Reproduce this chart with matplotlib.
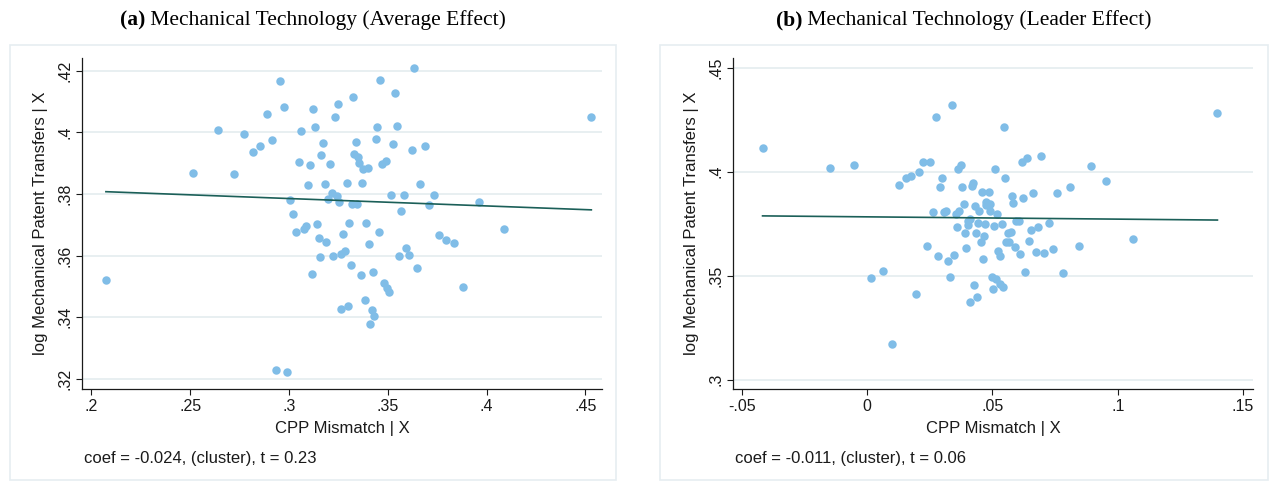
import numpy as np
import matplotlib
matplotlib.use("Agg")
import matplotlib.pyplot as plt
from matplotlib.patches import Rectangle

plt.rcParams['font.family'] = ['Liberation Sans', 'DejaVu Sans']

# panel (a): average effect
left_x = [0.2955, 0.2974, 0.3123, 0.3248, 0.3326, 0.3463, 0.3633, 0.3537, 0.3235, 0.3061,
          0.3134, 0.3446, 0.3546, 0.2913, 0.3173, 0.3338, 0.3439, 0.3527, 0.3621, 0.3164,
          0.3329, 0.3350, 0.3050, 0.3105, 0.3210, 0.3356, 0.3377, 0.3399, 0.3471, 0.3490,
          0.3098, 0.3181, 0.3293, 0.3371, 0.3663, 0.3217, 0.3242, 0.3199, 0.3255, 0.3318,
          0.3343, 0.3517, 0.3581, 0.3007, 0.3022, 0.3569, 0.3142, 0.3306, 0.3392, 0.3454,
          0.3037, 0.3075, 0.3088, 0.3151, 0.3189, 0.3274, 0.3405, 0.3157, 0.3225, 0.3264,
          0.3285, 0.3557, 0.3594, 0.3609, 0.3650, 0.3115, 0.3313, 0.3365, 0.3427, 0.3481,
          0.3495, 0.3507, 0.3385, 0.3265, 0.3301, 0.3419, 0.3432, 0.3412, 0.2933, 0.2992,
          0.2888, 0.2640, 0.2774, 0.2855, 0.2820, 0.2516, 0.2721, 0.2074, 0.4530, 0.3689,
          0.3733, 0.3709, 0.3960, 0.3760, 0.3794, 0.3836, 0.4089, 0.3883]
left_y = [0.4167, 0.4083, 0.4076, 0.4092, 0.4116, 0.4170, 0.4210, 0.4127, 0.4049, 0.4005,
          0.4016, 0.4017, 0.4021, 0.3974, 0.3966, 0.3969, 0.3977, 0.3961, 0.3942, 0.3926,
          0.3931, 0.3921, 0.3903, 0.3893, 0.3896, 0.3901, 0.3882, 0.3883, 0.3898, 0.3908,
          0.3828, 0.3833, 0.3834, 0.3835, 0.3832, 0.3804, 0.3793, 0.3782, 0.3775, 0.3766,
          0.3767, 0.3796, 0.3796, 0.3779, 0.3736, 0.3744, 0.3702, 0.3706, 0.3706, 0.3677,
          0.3675, 0.3685, 0.3696, 0.3656, 0.3645, 0.3671, 0.3638, 0.3596, 0.3599, 0.3606,
          0.3614, 0.3599, 0.3623, 0.3602, 0.3558, 0.3541, 0.3570, 0.3537, 0.3547, 0.3512,
          0.3495, 0.3481, 0.3456, 0.3427, 0.3436, 0.3424, 0.3405, 0.3378, 0.3228, 0.3222,
          0.4059, 0.4007, 0.3994, 0.3957, 0.3937, 0.3867, 0.3864, 0.3520, 0.4049, 0.3957,
          0.3795, 0.3765, 0.3774, 0.3668, 0.3651, 0.3641, 0.3686, 0.3497]
left_coef, left_icpt = -0.024, 0.3857
left_xticks = [0.2, 0.25, 0.3, 0.35, 0.4, 0.45]
left_xlabels = ['.2', '.25', '.3', '.35', '.4', '.45']
left_yticks = [0.32, 0.34, 0.36, 0.38, 0.40, 0.42]
left_ylabels = ['.32', '.34', '.36', '.38', '.4', '.42']

# panel (b): leader effect
right_x = [0.0339, 0.0273, 0.0545, 0.0224, 0.0251, 0.0363, 0.0373, 0.0616, 0.0638, 0.0695,
           0.0510, 0.0208, 0.0173, 0.0153, 0.0128, 0.0300, 0.0292, 0.0380, 0.0417, 0.0422,
           0.0550, 0.0457, 0.0485, 0.0577, 0.0623, 0.0663, 0.0757, 0.0385, 0.0430, 0.0474,
           0.0490, 0.0476, 0.0582, 0.0261, 0.0308, 0.0316, 0.0355, 0.0368, 0.0448, 0.0490,
           0.0518, 0.0402, 0.0410, 0.0444, 0.0472, 0.0506, 0.0537, 0.0594, 0.0604, 0.0725,
           0.0359, 0.0404, 0.0392, 0.0436, 0.0466, 0.0454, 0.0562, 0.0573, 0.0554, 0.0566,
           0.0589, 0.0654, 0.0683, 0.0647, 0.0239, 0.0396, 0.0283, 0.0323, 0.0345, 0.0462,
           0.0522, 0.0528, 0.0610, 0.0673, 0.0707, 0.0741, 0.0063, 0.0331, 0.0631, 0.0497,
           0.0513, 0.0530, 0.0540, 0.0426, 0.0501, 0.0193, 0.0412, 0.0440, -0.0418, -0.0150,
           -0.0052, 0.0016, 0.0100, 0.1398, 0.0894, 0.0954, 0.0809, 0.0846, 0.1061, 0.0782]
right_y = [0.4322, 0.4262, 0.4216, 0.4045, 0.4045, 0.4014, 0.4031, 0.4045, 0.4066, 0.4077,
           0.4013, 0.3997, 0.3981, 0.3968, 0.3938, 0.3971, 0.3925, 0.3928, 0.3931, 0.3946,
           0.3971, 0.3904, 0.3904, 0.3885, 0.3872, 0.3899, 0.3899, 0.3846, 0.3837, 0.3856,
           0.3845, 0.3838, 0.3848, 0.3805, 0.3806, 0.3813, 0.3798, 0.3811, 0.3810, 0.3810,
           0.3795, 0.3763, 0.3771, 0.3755, 0.3749, 0.3740, 0.3749, 0.3763, 0.3764, 0.3753,
           0.3736, 0.3745, 0.3707, 0.3705, 0.3689, 0.3663, 0.3704, 0.3712, 0.3661, 0.3663,
           0.3639, 0.3720, 0.3736, 0.3668, 0.3644, 0.3633, 0.3595, 0.3569, 0.3598, 0.3582,
           0.3617, 0.3593, 0.3606, 0.3614, 0.3608, 0.3630, 0.3521, 0.3494, 0.3519, 0.3495,
           0.3483, 0.3460, 0.3444, 0.3454, 0.3437, 0.3412, 0.3372, 0.3396, 0.4115, 0.4019,
           0.4034, 0.3490, 0.3170, 0.4282, 0.4027, 0.3955, 0.3925, 0.3643, 0.3675, 0.3513]
right_coef, right_icpt = -0.011, 0.3783
right_xticks = [-0.05, 0, 0.05, 0.1, 0.15]
right_xlabels = ['-.05', '0', '.05', '.1', '.15']
right_yticks = [0.30, 0.35, 0.40, 0.45]
right_ylabels = ['.3', '.35', '.4', '.45']

DOT = '#80bde7'
FIT = '#1b5f58'
GRID = '#e6eef0'
INK = '#1a1a1a'

W, H = 1270, 483
fig = plt.figure(figsize=(W / 100, H / 100), dpi=100)
fig.patch.set_facecolor('white')


def fx(px):
    return px / W


def fy(py):
    return 1 - py / H


def panel(x0, box, tag, title, xs, ys, coef, icpt, xt, xl, yt, yl, xlim, ylim, note):
    # light frame around each graph
    fig.patches.append(Rectangle((fx(box[0]), fy(box[3])), fx(box[2] - box[0]), (box[3] - box[1]) / H,
                                 transform=fig.transFigure, fill=False, ec='#e6edf1', lw=1.2))
    ax = fig.add_axes([fx(x0), fy(389), fx(520), 331 / H])
    ax.scatter(xs, ys, s=37, color=DOT, linewidths=0, zorder=3)
    xx = np.array([min(xs), max(xs)])
    ax.plot(xx, icpt + coef * xx, color=FIT, lw=1.2, zorder=4)
    ax.set_xlim(*xlim)
    ax.set_ylim(*ylim)
    ax.set_xticks(xt, xl)
    ax.set_yticks(yt, yl)
    ax.tick_params(axis='y', labelrotation=90)
    for lab in ax.get_yticklabels():
        lab.set_va('center')
    ax.tick_params(direction='out', length=4, width=0.8, color=INK, labelsize=11.5, labelcolor=INK, pad=3)
    ax.yaxis.grid(True, color=GRID, lw=1.3)
    ax.set_axisbelow(True)
    for s in ['top', 'right']:
        ax.spines[s].set_visible(False)
    for s in ['left', 'bottom']:
        ax.spines[s].set_color(INK)
        ax.spines[s].set_linewidth(0.9)
    ax.set_xlabel('CPP Mismatch | X', fontsize=12, color=INK, labelpad=5)
    ax.set_ylabel('log Mechanical Patent Transfers | X', fontsize=12, color=INK, labelpad=7)
    fig.text(fx(x0 + 2), fy(458), note, fontsize=12, color=INK, ha='left', va='center')

    # title: bold tag + regular text, centred over the frame
    r = fig.canvas.get_renderer()
    t1 = fig.text(0, fy(20), tag, fontsize=15.5, weight='bold', family='Liberation Serif', va='center')
    t2 = fig.text(0, fy(20), ' ' + title, fontsize=15.5, family='Liberation Serif', va='center')
    w1 = t1.get_window_extent(r).width
    w2 = t2.get_window_extent(r).width
    xc = (box[0] + box[2]) / 2
    start = xc - (w1 + w2) / 2
    t1.set_x(fx(start))
    t2.set_x(fx(start + w1))
    return ax


panel(82, (10, 45, 616, 480), '(a)', 'Mechanical Technology (Average Effect)',
      left_x, left_y, left_coef, left_icpt, left_xticks, left_xlabels, left_yticks, left_ylabels,
      (0.1953, 0.4584), (0.3167, 0.4241), 'coef = -0.024, (cluster), t = 0.23')
panel(733, (660, 45, 1268, 480), '(b)', 'Mechanical Technology (Leader Effect)',
      right_x, right_y, right_coef, right_icpt, right_xticks, right_xlabels, right_yticks, right_ylabels,
      (-0.0536, 0.1540), (0.2955, 0.4547), 'coef = -0.011, (cluster), t = 0.06')

fig.savefig('out.png', dpi=100)
